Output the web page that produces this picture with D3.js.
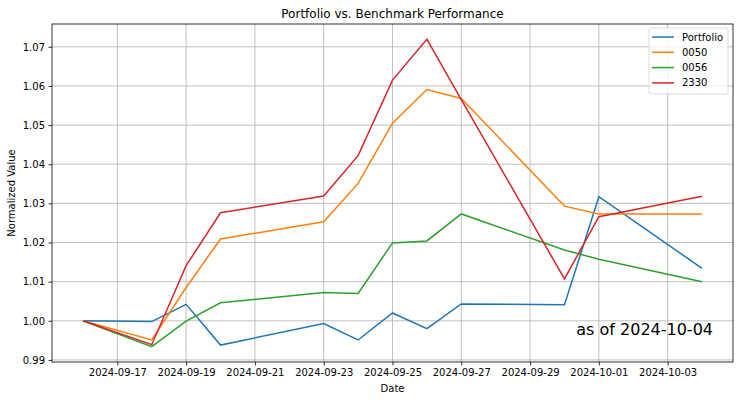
<!DOCTYPE html>
<html>
<head>
<meta charset="utf-8">
<script src="https://cdn.jsdelivr.net/npm/d3@7"></script>
<style>
  body { margin: 0; background: #fff; }
  text { font-family: "DejaVu Sans", sans-serif; fill: #000; }
</style>
</head>
<body>
<div id="chart"></div>
<script>
var dates = ["2024-09-16", "2024-09-18", "2024-09-19", "2024-09-20", "2024-09-23", "2024-09-24",
             "2024-09-25", "2024-09-26", "2024-09-27", "2024-09-30", "2024-10-01", "2024-10-04"];
var portfolio = [1.0000, 0.9998, 1.0042, 0.9938, 0.9993, 0.9951, 1.0020, 0.9980, 1.0043, 1.0041, 1.0317, 1.0134];
var etf0050   = [1.0000, 0.9951, 1.0085, 1.0209, 1.0253, 1.0351, 1.0505, 1.0591, 1.0568, 1.0293, 1.0273, 1.0273];
var etf0056   = [1.0000, 0.9934, 0.9999, 1.0046, 1.0072, 1.0070, 1.0199, 1.0204, 1.0273, 1.0181, 1.0157, 1.0100];
var tsmc2330  = [1.0000, 0.9939, 1.0141, 1.0276, 1.0319, 1.0422, 1.0615, 1.0719, 1.0565, 1.0107, 1.0266, 1.0318];
var seriesNames = ["Portfolio", "0050", "0056", "2330"];
var xTickLabels = ["2024-09-17", "2024-09-19", "2024-09-21", "2024-09-23", "2024-09-25",
                   "2024-09-27", "2024-09-29", "2024-10-01", "2024-10-03"];
var yTickValues = [0.99, 1.00, 1.01, 1.02, 1.03, 1.04, 1.05, 1.06, 1.07];

(function() {
  "use strict";
  var W = 740, H = 401;
  var L = 52, R = 733, T = 24, B = 362;
  var colors = ["#1f77b4", "#ff7f0e", "#2ca02c", "#d62728"];
  var parse = d3.utcParse("%Y-%m-%d");

  var svg = d3.select("#chart").append("svg")
      .attr("width", W)
      .attr("height", H);

  var t0 = parse(dates[0]), t1 = parse(dates[dates.length - 1]);
  var pad = (t1 - t0) * 0.05;
  var x = d3.scaleUtc()
      .domain([new Date(+t0 - pad), new Date(+t1 + pad)])
      .range([L, R]);

  var all = portfolio.concat(etf0050, etf0056, tsmc2330);
  var lo = d3.min(all), hi = d3.max(all), ypad = (hi - lo) * 0.05;
  var y = d3.scaleLinear()
      .domain([lo - ypad, hi + ypad])
      .range([B, T]);

  // grid
  var xTicks = xTickLabels.map(parse);
  svg.append("g").selectAll("line").data(xTicks).enter().append("line")
      .attr("x1", function(d) { return x(d); })
      .attr("x2", function(d) { return x(d); })
      .attr("y1", T).attr("y2", B)
      .style("stroke", "#b0b0b0").style("stroke-width", 0.8);
  svg.append("g").selectAll("line").data(yTickValues).enter().append("line")
      .attr("y1", function(d) { return y(d); })
      .attr("y2", function(d) { return y(d); })
      .attr("x1", L).attr("x2", R)
      .style("stroke", "#b0b0b0").style("stroke-width", 0.8);

  // axes
  var xAxis = svg.append("g")
      .attr("transform", "translate(0," + B + ")")
      .call(d3.axisBottom(x).tickValues(xTicks).tickFormat(d3.utcFormat("%Y-%m-%d")).tickSizeOuter(0).tickSize(3.5).tickPadding(3.5));
  var yAxis = svg.append("g")
      .attr("transform", "translate(" + L + ",0)")
      .call(d3.axisLeft(y).tickValues(yTickValues).tickFormat(d3.format(".2f")).tickSizeOuter(0).tickSize(3.5).tickPadding(3.5));
  [xAxis, yAxis].forEach(function(a) {
    a.select(".domain").remove();
    a.selectAll("line").style("stroke", "#000").style("stroke-width", 0.8);
    a.selectAll("text").style("font-size", "10px").style("font-family", "DejaVu Sans");
  });

  // lines
  var data = [portfolio, etf0050, etf0056, tsmc2330];
  var line = d3.line()
      .x(function(d, i) { return x(parse(dates[i])); })
      .y(function(d) { return y(d); });
  data.forEach(function(s, k) {
    svg.append("path")
        .datum(s)
        .attr("d", line)
        .style("fill", "none")
        .style("stroke", colors[k])
        .style("stroke-width", 1.5);
  });

  // frame
  svg.append("rect")
      .attr("x", L).attr("y", T)
      .attr("width", R - L).attr("height", B - T)
      .style("fill", "none").style("stroke", "#000").style("stroke-width", 0.8);

  // titles
  svg.append("text").attr("x", (L + R) / 2).attr("y", 18)
      .attr("text-anchor", "middle").style("font-size", "12px")
      .text("Portfolio vs. Benchmark Performance");
  svg.append("text").attr("x", (L + R) / 2).attr("y", 392)
      .attr("text-anchor", "middle").style("font-size", "10px")
      .text("Date");
  svg.append("text")
      .attr("transform", "translate(15," + (T + B) / 2 + ") rotate(-90)")
      .attr("text-anchor", "middle").style("font-size", "10px")
      .text("Normalized Value");
  svg.append("text").attr("x", 713).attr("y", 335)
      .attr("text-anchor", "end").style("font-size", "16px")
      .text("as of 2024-10-04");

  // legend
  var lg = svg.append("g");
  lg.append("rect")
      .attr("x", 649).attr("y", 28).attr("width", 79).attr("height", 66).attr("rx", 2)
      .style("fill", "#fff").style("fill-opacity", 0.8)
      .style("stroke", "#d0d0d0").style("stroke-width", 0.8);
  seriesNames.forEach(function(name, k) {
    var yy = 37 + k * 15.3;
    lg.append("line")
        .attr("x1", 652).attr("x2", 674).attr("y1", yy).attr("y2", yy)
        .style("stroke", colors[k]).style("stroke-width", 1.5);
    lg.append("text")
        .attr("x", 682).attr("y", yy + 3.5)
        .style("font-size", "10px")
        .text(name);
  });
})();
</script>
</body>
</html>
